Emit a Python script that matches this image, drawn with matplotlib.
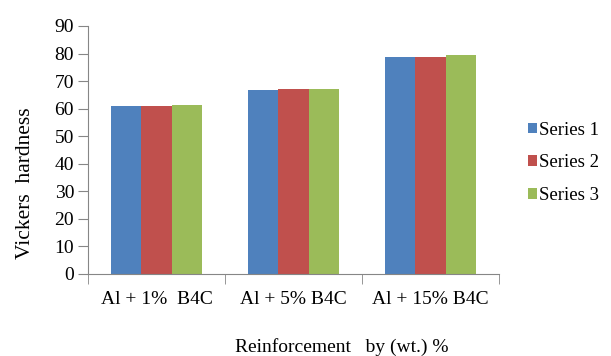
import numpy as np
import matplotlib.pyplot as plt

categories = ['Al + 1%  B4C', 'Al + 5% B4C', 'Al + 15% B4C']
series_names = ['Series 1', 'Series 2', 'Series 3']
series1 = [61.0, 66.9, 78.9]
series2 = [61.0, 67.3, 78.9]
series3 = [61.5, 67.3, 79.5]
colors = ['#4F81BD', '#C0504D', '#9BBB59']

plt.rcParams['font.family'] = 'Liberation Serif'
plt.rcParams['font.size'] = 14

fig = plt.figure(figsize=(6.11, 3.56), dpi=100)
ax = fig.add_axes([88/611, 1-274/356, (499-88)/611, (274-26)/356])

x = np.arange(len(categories))
w = 0.22
for i, vals in enumerate([series1, series2, series3]):
    ax.bar(x + (i-1)*w, vals, w, color=colors[i], label=series_names[i])

ax.set_xlim(-0.5, 2.5)
ax.set_ylim(0, 90)
ax.set_yticks(range(0, 91, 10))
ax.set_xticks(x)
ax.set_xticklabels(categories)
ax.set_xticks([-0.5, 0.5, 1.5, 2.5], minor=True)
ax.tick_params(axis='x', which='major', length=0, pad=12)
ax.tick_params(axis='x', which='minor', length=7, color='#868686')
ax.tick_params(axis='y', length=7, color='#868686', pad=3)

for s in ['top', 'right']:
    ax.spines[s].set_visible(False)
for s in ['left', 'bottom']:
    ax.spines[s].set_color('#868686')

fig.text(25/611, 1-183/356, 'Vickers  hardness', rotation=90, ha='center', va='center', fontsize=15.5)
fig.text(342/611, 1-347/356, 'Reinforcement   by (wt.) %', ha='center', va='center')

ax.legend(loc='center left', bbox_to_anchor=(511/611, 1-163/356), bbox_transform=fig.transFigure,
          frameon=False, handlelength=0.5, handleheight=0.5, handletextpad=0.1, labelspacing=0.85,
          fontsize=13.5)

fig.savefig('out.png', dpi=100)
